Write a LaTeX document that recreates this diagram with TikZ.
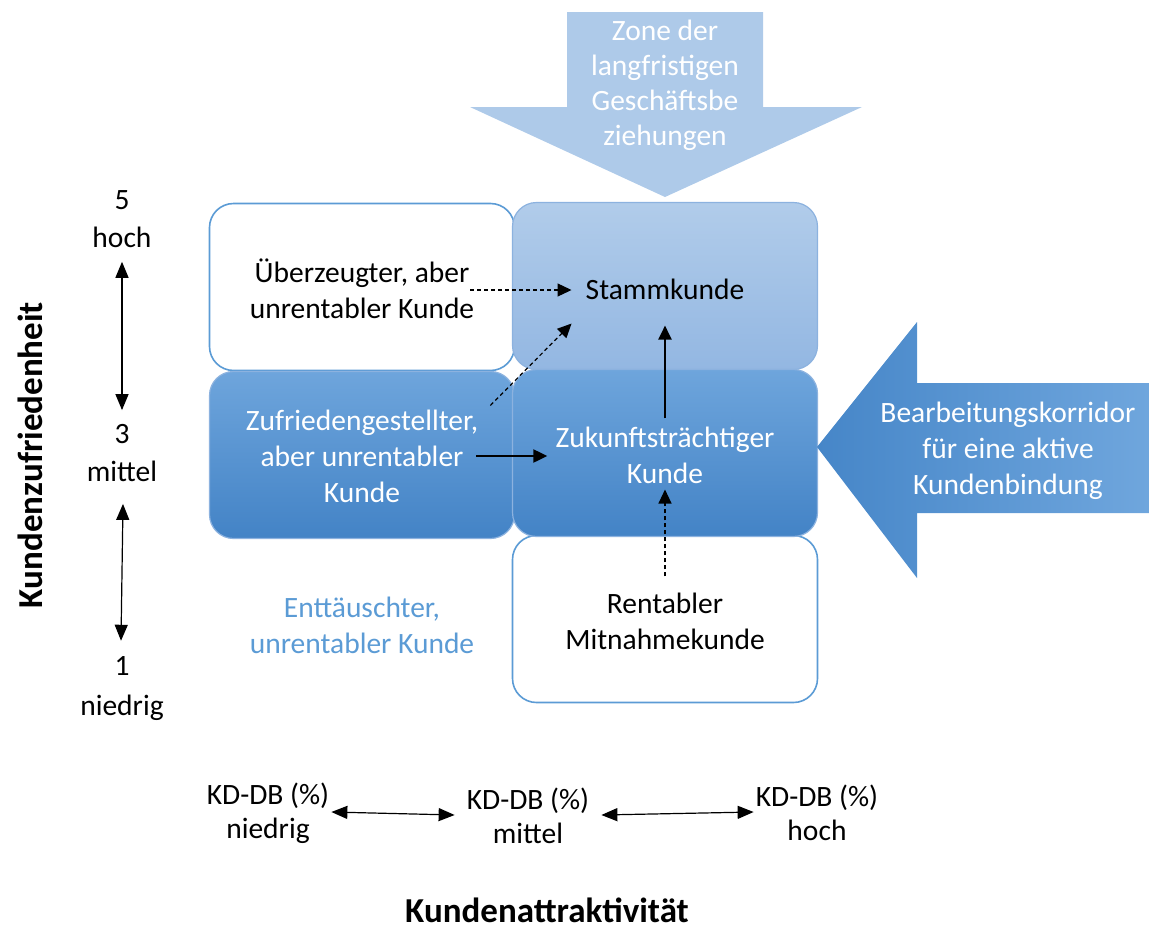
\documentclass[tikz,border=0pt]{standalone}
\usepackage{fontspec}
\setmainfont{Carlito}
\usetikzlibrary{arrows.meta,calc}
\definecolor{zonecol}{HTML}{AECAE9}
\definecolor{corrL}{HTML}{4686C8}
\definecolor{corrR}{HTML}{6FA6DD}
\definecolor{stTop}{HTML}{B1CCEA}
\definecolor{stBot}{HTML}{93B7E2}
\definecolor{midTop}{HTML}{6EA5DC}
\definecolor{midBot}{HTML}{4383C6}
\definecolor{edgecol}{HTML}{5B9BD5}
\definecolor{edgelight}{HTML}{8CB2DF}
\definecolor{labelblue}{HTML}{5B9BD5}
\tikzset{
  txt/.style={font=\fontsize{29.5}{36}\selectfont, align=center, inner sep=2pt},
  boxw/.style={draw=edgecol, line width=1.6pt, fill=white, rounded corners=24pt,
    minimum width=305pt, minimum height=167pt},
  boxst/.style={draw=edgelight, line width=1.2pt, top color=stTop, bottom color=stBot, rounded corners=24pt,
    minimum width=305pt, minimum height=167pt},
  boxmid/.style={draw=edgelight, line width=1.2pt, top color=midTop, bottom color=midBot, rounded corners=24pt,
    minimum width=305pt, minimum height=167pt},
  tip/.style={-{Triangle[width=13pt,length=14pt]}, line width=2.2pt},
  dtip/.style={-{Triangle[width=13pt,length=14pt]}, line width=1.2pt, dash pattern=on 4pt off 3pt},
  axis/.style={{Triangle[width=13pt,length=16pt]}-{Triangle[width=13pt,length=16pt]}, line width=1.2pt},
  bold/.style={font=\bfseries\fontsize{35}{40}\selectfont, inner sep=0pt},
}
\begin{document}
\begin{tikzpicture}[x=1pt,y=-1pt]
\useasboundingbox (0,0) rectangle (1149,932);
% top arrow
\fill[zonecol] (567,12) -- (763,12) -- (763,107) -- (862,107) -- (665,197) -- (470,107) -- (567,107) -- cycle;
\node[txt, text=white, font=\fontsize{29.5}{35}\selectfont] (zone) at (665,85) {Zone der\\langfristigen\\Geschäftsbe\\ziehungen};
% boxes: top row
\node[boxw] (ueb) at (362,287) {};
\node[boxst] (stamm) at (665,286) {};
% bottom row
\node[boxw] (rent) at (665,619) {};
% middle row
\node[boxmid] (zuf) at (362,455) {};
\node[boxmid] (zuk) at (665,453) {};
% right arrow
\shade[left color=corrL, right color=corrR] (1149,383) -- (917,383) -- (917,322) -- (817,447) -- (917,578) -- (917,513) -- (1149,513) -- cycle;
\node[txt, text=white] (korr) at (1008,451) {Bearbeitungskorridor\\für eine aktive\\Kundenbindung};
% texts
\node[txt] (uebT) at (362,289) {Überzeugter, aber\\unrentabler Kunde};
\node[txt] (stammT) at (665,289) {Stammkunde};
\node[txt, text=white] (zufT) at (362,456) {Zufriedengestellter,\\aber unrentabler\\Kunde};
\node[txt, text=white] (zukT) at (665,455) {Zukunftsträchtiger\\Kunde};
\node[txt] (rentT) at (665,621) {Rentabler\\Mitnahmekunde};
\node[txt, text=labelblue] (entT) at (362,625) {Enttäuschter,\\unrentabler Kunde};
% inner connectors
\draw[dtip] ($(uebT.east)+(-6,1)$) -- ($(stammT.west)+(-12,1)$);
\draw[dtip] ($(zufT.north east)+(10,-2)$) -- ($(stammT.south west)+(-12,22)$);
\draw[tip] ($(zufT.east)+(-4,0)$) -- ($(zukT.west)+(-6,1)$);
\draw[tip] ($(zukT.north)+(0,-6)$) -- ($(stammT.south)+(0,24)$);
\draw[dtip] ($(rentT.north)+(0,-14)$) -- ($(zukT.south)+(0,4)$);
% left axis
\node[txt, font=\fontsize{29.5}{38}\selectfont] (y5) at (122,219) {5\\hoch};
\node[txt, font=\fontsize{29.5}{38}\selectfont] (y3) at (122,453) {3\\mittel};
\node[txt, font=\fontsize{29.5}{40}\selectfont] (y1) at (122,689) {1\\niedrig};
\draw[axis] ($(y5.south)+(0,12)$) -- ($(y3.north)+(0,-12)$);
\draw[axis] ($(y3.south)+(1,20)$) -- ($(y1.north)+(-1,-14)$);
\node[bold, rotate=90] (yl) at (30,455) {Kundenzufriedenheit};
% bottom axis
\node[txt, font=\fontsize{29.5}{34}\selectfont] (xl) at (268,813) {KD-DB (\%)\\niedrig};
\node[txt, font=\fontsize{29.5}{34}\selectfont] (xm) at (528,816) {KD-DB (\%)\\mittel};
\node[txt, font=\fontsize{29.5}{34}\selectfont] (xh) at (817,813) {KD-DB (\%)\\hoch};
\draw[axis] ($(xl.east)+(0,-1)$) -- ($(xm.west)+(-10,-1)$);
\draw[axis] ($(xm.east)+(10,-1)$) -- ($(xh.west)+(0,-1)$);
\node[bold] (xt) at (547,910) {Kundenattraktivität};
\end{tikzpicture}
\end{document}
